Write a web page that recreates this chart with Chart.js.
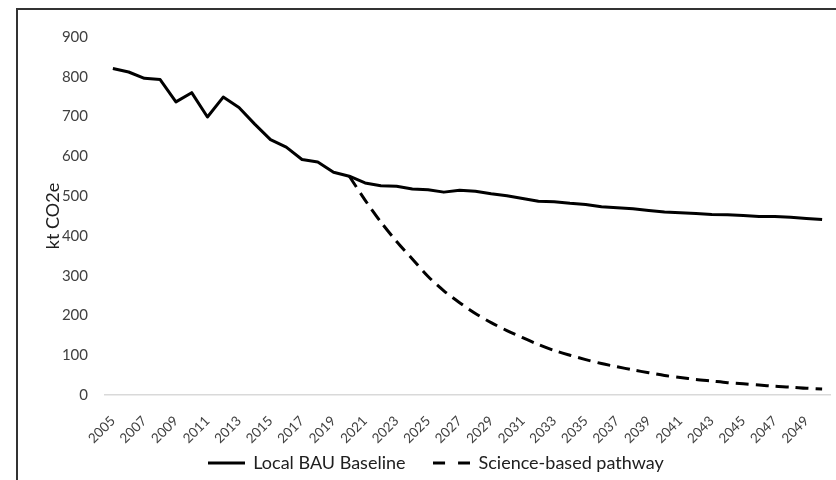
<!DOCTYPE html>
<html>
<head>
<meta charset="utf-8">
<script src="https://cdn.jsdelivr.net/npm/chart.js@4.4.0/dist/chart.umd.min.js"></script>
<style>
  html, body { margin: 0; padding: 0; background: #fff; overflow: hidden; width: 836px; height: 480px; }
  #frame { position: absolute; left: 16px; top: 8px; width: 860px; height: 500px; border-top: 2px solid #333; border-left: 2px solid #333; box-sizing: border-box; }
  #wrap { position: absolute; left: 16px; top: 8px; width: 840px; height: 474px; }
</style>
</head>
<body>
<div id="wrap"><canvas id="c"></canvas></div>
<div id="frame"></div>
<script>
const years = ['2005','2006','2007','2008','2009','2010','2011','2012','2013','2014',
  '2015','2016','2017','2018','2019','2020','2021','2022','2023','2024',
  '2025','2026','2027','2028','2029','2030','2031','2032','2033','2034',
  '2035','2036','2037','2038','2039','2040','2041','2042','2043','2044',
  '2045','2046','2047','2048','2049','2050'];

const bauBaseline = [821, 812, 796, 793, 737, 760, 699, 749, 723, 681,
  642, 623, 592, 586, 560, 550, 533, 526, 525, 518,
  516, 510, 515, 512, 506, 501, 494, 487, 486, 482,
  479, 473, 471, 468, 464, 460, 458, 456, 454, 453,
  451, 449, 449, 447, 444, 441];

const sciencePathway = [null, null, null, null, null, null, null, null, null, null,
  null, null, null, null, null, 550, 490, 435, 386, 342,
  298, 262, 232, 205, 182, 162, 144, 127, 112, 100,
  89, 79, 71, 63, 56, 49, 44, 39, 35, 31,
  28, 25, 22, 20, 17, 15];

const yTicks = [0, 100, 200, 300, 400, 500, 600, 700, 800, 900];
const seriesNames = ['Local BAU Baseline', 'Science-based pathway'];
const yTitle = 'kt CO2e';

const FONT = 'Lato, "Open Sans", sans-serif';
const TXT = '#404040';
const LEGEND_SAMPLE_W = 37;

// legend line sample (uses the dataset's width and a dash pattern)
function legendSample(ds) {
  const cv = document.createElement('canvas');
  cv.width = LEGEND_SAMPLE_W; cv.height = 5;
  const g = cv.getContext('2d');
  g.strokeStyle = ds.borderColor;
  g.lineWidth = ds.borderWidth;
  g.setLineDash(ds.borderDash ? [12, 13] : []);
  g.beginPath(); g.moveTo(0, 2.5); g.lineTo(LEGEND_SAMPLE_W, 2.5); g.stroke();
  return cv;
}

// let the rotated x labels extend below the (short) x-scale box
const noLabelClip = {
  id: 'noLabelClip',
  beforeDraw(chart) {
    const sx = chart.scales.x;
    if (sx) sx._computeLabelArea = function() { return undefined; };
  }
};

new Chart(document.getElementById('c'), {
  type: 'line',
  data: {
    labels: years,
    datasets: [
      { label: seriesNames[0], data: bauBaseline, borderColor: '#000', backgroundColor: '#000',
        borderWidth: 3, pointRadius: 0, tension: 0, borderJoinStyle: 'round', borderCapStyle: 'butt' },
      { label: seriesNames[1], data: sciencePathway, borderColor: '#000', backgroundColor: '#000',
        borderWidth: 3, borderDash: [13, 7], pointRadius: 0, tension: 0.3, borderCapStyle: 'butt' }
    ]
  },
  plugins: [noLabelClip],
  options: {
    responsive: true,
    maintainAspectRatio: false,
    animation: false,
    layout: { padding: { top: 29, left: 26, right: 26, bottom: 0 } },
    plugins: {
      tooltip: { enabled: false },
      legend: {
        position: 'bottom',
        labels: {
          usePointStyle: true,
          pointStyleWidth: 36,
          boxHeight: 18,
          padding: 28,
          color: '#202020',
          font: { family: FONT, size: 18 },
          generateLabels: function(chart) {
            const items = Chart.defaults.plugins.legend.labels.generateLabels(chart);
            items.forEach(function(it) {
              it.pointStyle = legendSample(chart.data.datasets[it.datasetIndex]);
            });
            return items;
          }
        }
      }
    },
    scales: {
      x: {
        offset: true,
        grid: { display: false, drawTicks: false },
        border: { display: true, color: '#d9d9d9', width: 1.5 },
        ticks: {
          autoSkip: false,
          minRotation: 45,
          maxRotation: 45,
          padding: 18,
          color: TXT,
          font: { family: FONT, size: 13.5 },
          callback: function(v, i) { return i % 2 === 0 ? years[i] : ''; }
        },
        afterFit: function(s) { s.height = 31; }
      },
      y: {
        min: 0,
        max: 900,
        afterBuildTicks: function(s) { s.ticks = yTicks.map(v => ({ value: v })); },
        grid: { display: false, drawTicks: false },
        border: { display: false },
        ticks: { padding: 17, color: TXT, font: { family: FONT, size: 15 } },
        title: { display: true, text: yTitle, color: '#202020', font: { family: FONT, size: 18 }, padding: { top: 0, bottom: 0 } },
        afterFit: function(s) { s.width = 63; }
      }
    }
  }
});
</script>
</body>
</html>
